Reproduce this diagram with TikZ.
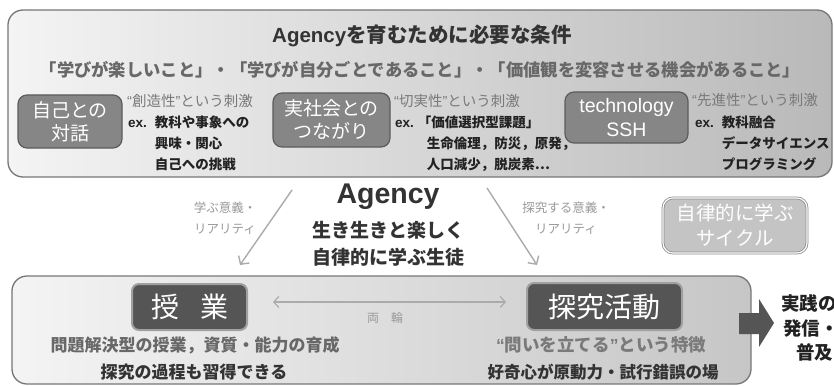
\documentclass[tikz,border=0pt]{standalone}
\usepackage{fontspec}
\setmainfont{Noto Sans CJK JP}
\newfontfamily\lat{Liberation Sans}
\usetikzlibrary{arrows.meta}
\definecolor{panelL}{HTML}{F4F4F4}
\definecolor{panelR}{HTML}{B9B9B9}
\definecolor{panelR2}{HTML}{C6C6C6}
\definecolor{panelBorder}{HTML}{777777}
\definecolor{sboxFill}{HTML}{868686}
\definecolor{sboxBorder}{HTML}{5C5C5C}
\definecolor{dboxFill}{HTML}{555555}
\definecolor{dboxBorder}{HTML}{A0A0A0}
\definecolor{lightText}{HTML}{9A9A9A}
\definecolor{midText}{HTML}{7A7A7A}
\definecolor{darkText}{HTML}{333333}
\definecolor{blackText}{HTML}{222222}
\definecolor{arrowGray}{HTML}{ABABAB}
\definecolor{cycFill}{HTML}{C4C4C4}
\definecolor{cycBorder}{HTML}{8A8A8A}
\newcommand{\myLq}{{\lat “}}
\newcommand{\myRq}{{\lat ”}}
\tikzset{
  panel/.style={draw=panelBorder, line width=1.3pt, rounded corners=15pt, inner sep=0pt},
  sbox/.style={draw=sboxBorder, fill=sboxFill, line width=1.2pt, rounded corners=9pt,
    text=white, align=center, inner sep=0pt, font=\fontsize{19}{23}\selectfont},
  dbox/.style={draw=dboxBorder, fill=dboxFill, line width=2pt, rounded corners=7pt,
    text=white, inner sep=0pt, font=\fontsize{28}{32}\selectfont},
  stim/.style={anchor=west, text=midText, inner sep=0pt, font=\fontsize{14.5}{17}\selectfont},
  exlist/.style={anchor=base west, text=blackText, inner sep=0pt, font=\bfseries\fontsize{13.5}{21.5}\selectfont},
  sidelabel/.style={text=lightText, align=center, inner sep=0pt, font=\fontsize{12.5}{21}\selectfont},
  thinarrow/.style={draw=arrowGray, line width=1.4pt},
  bottomtxt/.style={inner sep=0pt, font=\bfseries\fontsize{17}{20}\selectfont},
}
\begin{document}
\begin{tikzpicture}[x=1pt,y=-1pt]
\useasboundingbox (0,0) rectangle (834,385);
\clip (0,0) rectangle (834,385);
\fill[white] (0,0) rectangle (834,385);

% top panel
\node[panel, left color=panelL, right color=panelR, minimum width=824pt, minimum height=167pt] (top) at (420,93.5) {};
\node[text=darkText, inner sep=0pt, font=\bfseries\fontsize{20.5}{24}\selectfont] (title) at (422,36) {{\lat Agency}を育むために必要な条件};
\node[text=midText!85!black, inner sep=0pt, font=\bfseries\fontsize{17.3}{20}\selectfont] (subtitle) at (420,70) {「学びが楽しいこと」・「学びが自分ごとであること」・「価値観を変容させる機会があること」};

% three condition boxes
\node[sbox, minimum width=104pt, minimum height=53pt] (b1) at (70,121.5) {自己との\\対話};
\node[sbox, minimum width=117pt, minimum height=54pt] (b2) at (331.5,120) {実社会との\\つながり};
\node[sbox, minimum width=123pt, minimum height=51pt, font=\lat\fontsize{19.5}{24}\selectfont] (b3) at (626.5,117.5) {technology\\SSH};

\node[stim] (s1) at (127,101) {\myLq 創造性\myRq という刺激};
\node[exlist] (e1) at (128,127) {\begin{tabular}[t]{@{}l@{\hspace{8pt}}l@{}}{\lat ex.} & 教科や事象への\\ & 興味・関心\\ & 自己への挑戦\end{tabular}};

\node[stim] (s2) at (394,101) {\myLq 切実性\myRq という刺激};
\node[exlist] (e2) at (395,127) {\begin{tabular}[t]{@{}l@{\hspace{13pt}}l@{}}{\lat ex.} & \hspace{-9pt}「価値選択型課題」\\ & 生命倫理，防災，原発，\\ & 人口減少，脱炭素…\end{tabular}};

\node[stim] (s3) at (692,100) {\myLq 先進性\myRq という刺激};
\node[exlist] (e3) at (695,127) {\begin{tabular}[t]{@{}l@{\hspace{8pt}}l@{}}{\lat ex.} & 教科融合\\ & データサイエンス\\ & プログラミング\end{tabular}};

% Agency center
\node[text=darkText, inner sep=0pt, font=\lat\bfseries\fontsize{28.5}{32}\selectfont] (ag) at (388,197) {Agency};
\node[text=darkText, align=center, inner sep=0pt, font=\bfseries\fontsize{19}{27}\selectfont] (ag2) at (388,243.5) {生き生きと楽しく\\自律的に学ぶ生徒};

\node[sidelabel] (l1) at (225,218.5) {学ぶ意義・\\リアリティ};
\node[sidelabel] (l2) at (566,218.5) {探究する意義・\\リアリティ};

\coordinate (a1s) at (292,190);
\coordinate (a1e) at (240,265);
\coordinate (a2s) at (487,188);
\coordinate (a2e) at (537,265);
\draw[thinarrow, -{Straight Barb[length=6pt,width=13pt]}] (a1s) -- (a1e);
\draw[thinarrow, -{Straight Barb[length=6pt,width=13pt]}] (a2s) -- (a2e);

% cycle box
\node[draw=cycBorder, fill=cycFill, double=white, double distance=1.2pt, line width=0.8pt,
  rounded corners=10pt, minimum width=144pt, minimum height=55pt, inner sep=0pt,
  text=white, align=center, font=\fontsize{19.5}{25}\selectfont] (cyc) at (735,225.5) {自律的に学ぶ\\サイクル};

% bottom panel
\node[panel, left color=panelL, right color=panelR2, minimum width=739pt, minimum height=108pt] (bottom) at (381.5,330) {};

\node[dbox, minimum width=115pt, minimum height=46pt] (jg) at (189.5,307) {授\hspace{0.75em}業};
\node[dbox, minimum width=155pt, minimum height=47pt] (tk) at (604.5,306.5) {探究活動};

\coordinate (ha) at (273,302);
\coordinate (hb) at (506,302);
\draw[thinarrow, line width=1.2pt, {Straight Barb[length=5pt,width=11pt]}-{Straight Barb[length=5pt,width=11pt]}] (ha) -- (hb);
\node[text=lightText, inner sep=0pt, font=\fontsize{12}{14}\selectfont] (rr) at (385,318) {両\hspace{1em}輪};

\node[bottomtxt, text=midText!85!black] (q1) at (195,345) {問題解決型の授業，資質・能力の育成};
\node[bottomtxt, text=darkText] (q2) at (194,372) {探究の過程も習得できる};
\node[bottomtxt, text=midText, font=\bfseries\fontsize{17.5}{20}\selectfont] (q3) at (601,345) {\myLq 問いを立てる\myRq という特徴};
\node[bottomtxt, text=darkText, font=\bfseries\fontsize{16.5}{20}\selectfont] (q4) at (603,372) {好奇心が原動力・試行錯誤の場};

% outgoing block arrow
\fill[dboxFill] (739,313) -- (759,313) -- (759,299) -- (774,323) -- (759,347) -- (759,334) -- (739,334) -- cycle;
\node[anchor=west, align=left, text=blackText, inner sep=0pt, font=\bfseries\fontsize{18.5}{24.5}\selectfont] (rt) at (781,328) {実践の\\\hspace{2pt}発信・\\\hspace{15pt}普及};
\end{tikzpicture}
\end{document}
